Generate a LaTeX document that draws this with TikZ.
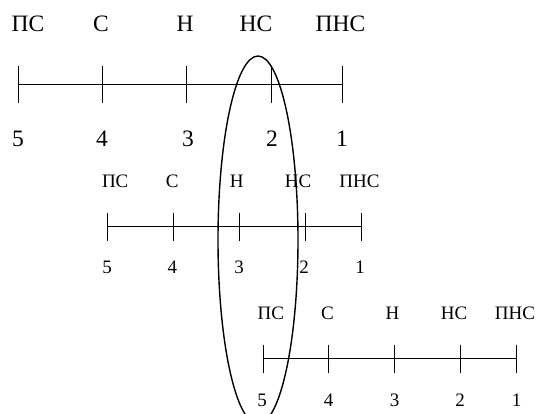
\documentclass[tikz,border=0pt]{standalone}
\usepackage{fontspec}
\setmainfont{Liberation Serif}
\begin{document}
\begin{tikzpicture}[x=1pt, y=-1pt,
    big/.style={font=\fontsize{23.5}{27}\selectfont, inner sep=0pt},
    small/.style={font=\fontsize{19}{22}\selectfont, inner sep=0pt},
    axis/.style={line width=1pt},
    tickmark/.style={line width=1pt},
    oval/.style={line width=1.4pt}
]
\useasboundingbox (0,0) rectangle (536,414);
% first scale
\foreach \name/\x in {a5/18, a4/102, a3/186, a2/271, a1/342}{
  \coordinate (\name) at (\x,85);
  \draw[tickmark] ([yshift=19pt]\name) -- ([yshift=-18pt]\name);
}
\draw[axis] (a5) -- (a1);
\node[big] (ta5) at (28,24) {ПС};
\node[big] (ta4) at (101,24) {С};
\node[big] (ta3) at (185,24) {Н};
\node[big] (ta2) at (256,24) {НС};
\node[big] (ta1) at (340.5,24) {ПНС};
\foreach \name/\x/\n in {a5/18/5, a4/102/4, a3/188/3, a2/272/2, a1/342/1}
  \node[big] (n\name) at (\x,138.5) {\n};
% second scale
\foreach \name/\x in {b5/107.7, b4/173, b3/239, b2/305, b1/361}{
  \coordinate (\name) at (\x,226.7);
  \draw[tickmark] ([yshift=14pt]\name) -- ([yshift=-14pt]\name);
}
\draw[axis] (b5) -- (b1);
\node[small] (tb5) at (115.2,181.7) {ПС};
\node[small] (tb4) at (172.2,181.7) {С};
\node[small] (tb3) at (236.7,181.7) {Н};
\node[small] (tb2) at (298,181.7) {НС};
\node[small] (tb1) at (359.5,181.7) {ПНС};
\foreach \name/\x/\n in {b5/107/5, b4/172.3/4, b3/239/3, b2/304/2, b1/360/1}
  \node[small] (n\name) at (\x,267.5) {\n};
% third scale
\foreach \name/\x in {c5/263, c4/328.7, c3/394, c2/460, c1/516.7}{
  \coordinate (\name) at (\x,359);
  \draw[tickmark] ([yshift=14pt]\name) -- ([yshift=-14pt]\name);
}
\draw[axis] (c5) -- (c1);
\node[small] (tc5) at (270.8,313.7) {ПС};
\node[small] (tc4) at (327.5,313.7) {С};
\node[small] (tc3) at (392.5,313.7) {Н};
\node[small] (tc2) at (454,313.7) {НС};
\node[small] (tc1) at (515,313.7) {ПНС};
\foreach \name/\x/\n in {c5/262/5, c4/328.7/4, c3/394.7/3, c2/460/2, c1/516.7/1}
  \node[small] (n\name) at (\x,400.3) {\n};
% grouping oval
\draw[oval] (258,240) ellipse [x radius=40, y radius=184];
\end{tikzpicture}
\end{document}
